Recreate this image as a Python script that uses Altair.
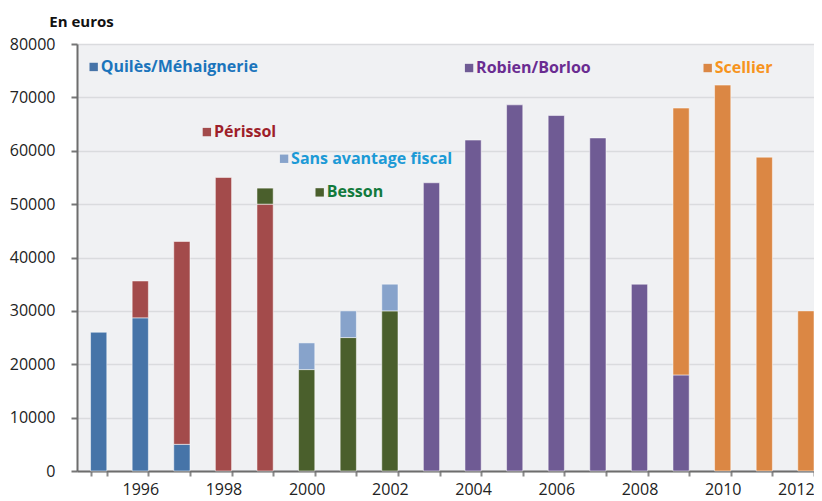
import altair as alt
import pandas as pd

years = list(range(1995, 2013))
series_names = ["Quilès/Méhaignerie", "Périssol", "Besson", "Sans avantage fiscal", "Robien/Borloo", "Scellier"]
quiles   = [26000, 28700, 5000, 0, 0, 0, 0, 0, 0, 0, 0, 0, 0, 0, 0, 0, 0, 0]
perissol = [0, 6900, 38000, 55000, 50000, 0, 0, 0, 0, 0, 0, 0, 0, 0, 0, 0, 0, 0]
besson   = [0, 0, 0, 0, 3000, 19000, 25000, 30000, 0, 0, 0, 0, 0, 0, 0, 0, 0, 0]
sans     = [0, 0, 0, 0, 0, 5000, 5000, 5000, 0, 0, 0, 0, 0, 0, 0, 0, 0, 0]
robien   = [0, 0, 0, 0, 0, 0, 0, 0, 54000, 62000, 68600, 66600, 62400, 35000, 18000, 0, 0, 0]
scellier = [0, 0, 0, 0, 0, 0, 0, 0, 0, 0, 0, 0, 0, 0, 50000, 72300, 58800, 30000]
series_values = [quiles, perissol, besson, sans, robien, scellier]

bar_colors = ["#4674a8", "#a34b4b", "#4a5f2c", "#87a3cb", "#6f5b94", "#db8744"]
text_colors = ["#1b75bc", "#9e1f2a", "#127a3c", "#1c9ad6", "#6a2c91", "#f7941d"]

# legend-like annotations inside the plot
ann_years = [1995, 1997, 2000, 1999, 2004, 2010]
ann_values = [75700, 63500, 52200, 58500, 75500, 75500]
ann_offsets = [-5, 25, 13, 19, -4, -15]

y_ticks = [0, 10000, 20000, 30000, 40000, 50000, 60000, 70000, 80000]

FONT = "Open Sans"

rows = []
for i, (name, vals) in enumerate(zip(series_names, series_values)):
    for yr, v in zip(years, vals):
        if v > 0:
            rows.append({"year": yr, "value": v, "series": name, "idx": i})
df = pd.DataFrame(rows)

x_enc = alt.X(
    "year:O",
    scale=alt.Scale(domain=years, paddingInner=0.61, paddingOuter=0.163, align=1),
    axis=alt.Axis(
        title=None, labelAngle=0, tickBand="extent",
        labelExpr="datum.value % 2 == 0 ? datum.label : ''",
        labelOffset={"expr": "datum.value == 2012 ? -10 : 0"},
        labelOverlap=False, domainColor="#6d6d6d", domainWidth=2,
        tickColor="#8a8a8a", tickWidth=2, tickSize=5,
        labelFont=FONT, labelFontSize=16, labelColor="#222222",
        labelPadding=5, grid=False,
    ),
)
y_scale = alt.Scale(domain=[0, 80000], nice=False)
y_axis = alt.Axis(
    title=None, values=y_ticks, format="d",
    gridColor="#dadbde", gridWidth=1.5,
    domainColor="#6d6d6d", domainWidth=2,
    tickColor="#777777", tickWidth=2, tickSize=6,
    labelFont=FONT, labelFontSize=16, labelColor="#222222", labelPadding=16,
)

bars = alt.Chart(df).mark_bar(stroke="#ffffff", strokeWidth=1, strokeOpacity=0.5).encode(
    x=x_enc,
    y=alt.Y("value:Q", stack="zero", scale=y_scale, axis=y_axis),
    color=alt.Color("series:N", scale=alt.Scale(domain=series_names, range=bar_colors), legend=None),
    order=alt.Order("idx:Q"),
)

layers = [bars]
for name, yr, val, off, bc, tc in zip(series_names, ann_years, ann_values, ann_offsets, bar_colors, text_colors):
    adf = pd.DataFrame([{"year": yr, "value": val, "label": name}])
    sq = alt.Chart(adf).mark_square(size=70, xOffset=off, color=bc, opacity=1).encode(
        x=alt.X("year:O"),
        y=alt.Y("value:Q", stack=None),
    )
    tx = alt.Chart(adf).mark_text(
        align="left", baseline="middle", dx=off + 7, font=FONT,
        fontSize=16, fontWeight="bold", color=tc,
    ).encode(
        x=alt.X("year:O"),
        y=alt.Y("value:Q", stack=None),
        text="label:N",
    )
    layers += [sq, tx]

chart = alt.layer(*layers).properties(
    width=737, height=427,
    autosize=alt.AutoSizeParams(type="none"),
    padding={"left": 69, "top": 36, "right": 0, "bottom": 30},
    title=alt.TitleParams("En euros", anchor="start", frame="bounds", dx=40,
                          fontSize=15, fontWeight="bold", font=FONT, color="#111111", offset=6),
).configure_view(fill="#f0f1f3", stroke=None)

chart.save("out.html", embed_options={"renderer": "svg", "actions": False})
